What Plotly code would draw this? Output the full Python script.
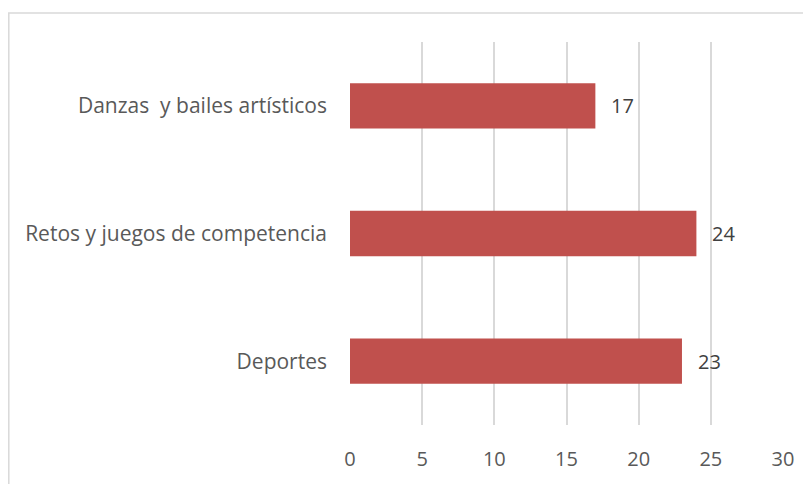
import plotly.graph_objects as go

categories = ["Deportes", "Retos y juegos de competencia", "Danzas  y bailes artísticos"]
values = [23, 24, 17]
tick_vals = [0, 5, 10, 15, 20, 25, 30]

fig = go.Figure(go.Bar(
    y=categories, x=values, orientation="h",
    marker=dict(color="#C0504D", line=dict(width=0)),
    hoverinfo="x+y",
))

# page has an 8px body margin, so the figure is sized for the remaining viewport
W, H = 803, 476
L, R, T, B = 342, 28, 34, 53
pw, ph = W - L - R, H - T - B

def px_x(p):
    return (p - L) / pw

def px_y(p):
    return (H - B - p) / ph

annotations = [
    dict(x=v, y=c, xref="x", yref="y", text=str(v), showarrow=False,
         xanchor="left", yanchor="middle", xshift=14,
         font=dict(family="Open Sans", size=20, color="#404040"))
    for c, v in zip(categories, values)
]

fig.update_layout(
    width=W, height=H,
    margin=dict(l=L, r=R, t=T, b=B, pad=0),
    plot_bgcolor="white", paper_bgcolor="white",
    bargap=0.645, showlegend=False,
    font=dict(family="Open Sans", size=20, color="#595959"),
    xaxis=dict(range=[0, 30], tickvals=tick_vals, showgrid=True, gridcolor="#D9D9D9",
               gridwidth=1.5, zeroline=False, showline=False, ticks="",
               ticklabelstandoff=20, tickfont=dict(size=20, color="#595959"),
               fixedrange=True),
    yaxis=dict(showgrid=False, zeroline=False, showline=False, ticks="",
               ticklabelstandoff=22, tickfont=dict(size=21, color="#595959"),
               fixedrange=True),
    annotations=annotations,
    shapes=[dict(type="rect", xref="paper", yref="paper",
                 x0=px_x(0.8), x1=px_x(830), y0=px_y(4.5), y1=px_y(500),
                 line=dict(color="#D9D9D9", width=1.5), layer="below")],
)

fig.write_html("out.html")
